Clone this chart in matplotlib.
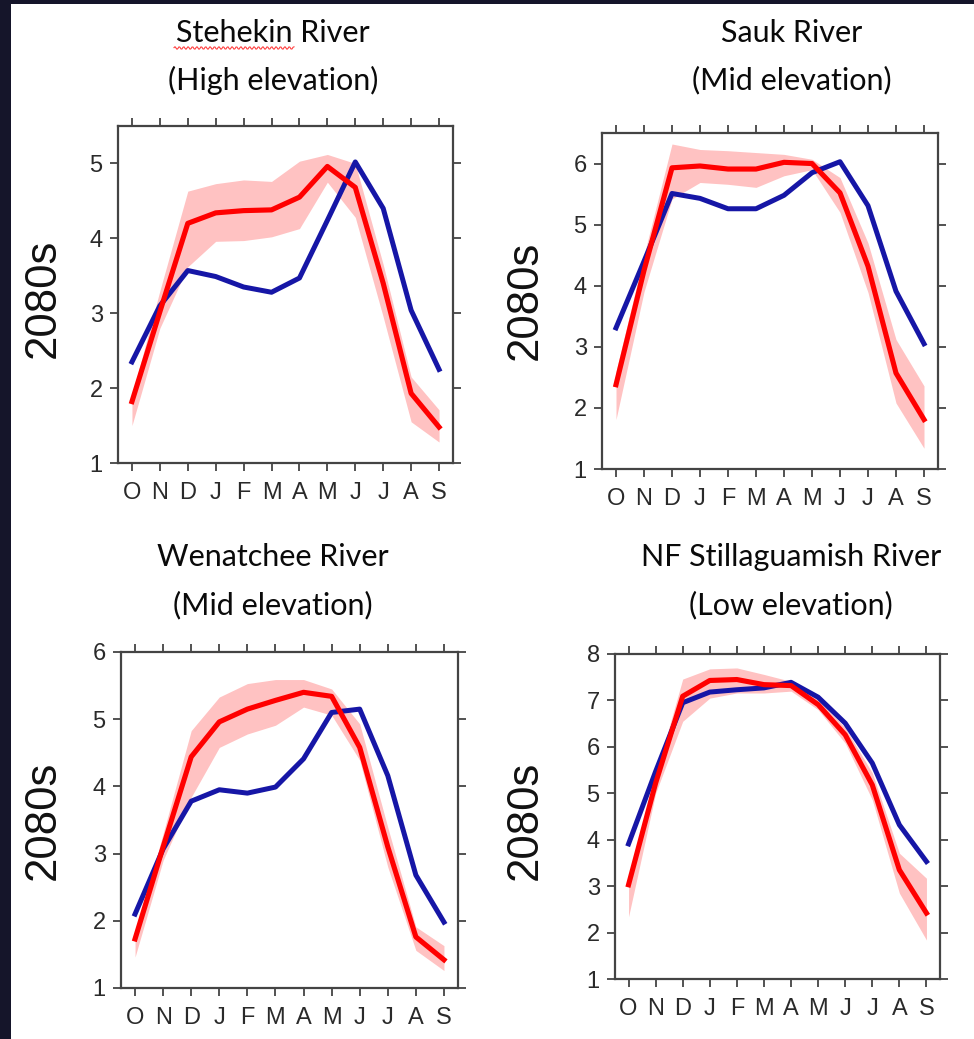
import numpy as np
import matplotlib
matplotlib.use('Agg')
import matplotlib.pyplot as plt
from matplotlib.patches import Rectangle
from matplotlib.lines import Line2D

months = ['O', 'N', 'D', 'J', 'F', 'M', 'A', 'M', 'J', 'J', 'A', 'S']

# Stehekin River (High elevation)
stehekin_hist = [2.35, 3.1, 3.57, 3.49, 3.35, 3.28, 3.47, 4.24, 5.02, 4.4, 3.04, 2.25]
stehekin_fut = [1.82, 3.02, 4.2, 4.34, 4.37, 4.38, 4.55, 4.96, 4.68, 3.4, 1.93, 1.48]
stehekin_lo = [1.5, 2.8, 3.62, 3.96, 3.97, 4.02, 4.13, 4.75, 4.28, 2.95, 1.55, 1.28]
stehekin_hi = [1.9, 3.3, 4.63, 4.73, 4.78, 4.76, 5.03, 5.12, 5.0, 3.65, 2.15, 1.71]

# Sauk River (Mid elevation)
sauk_hist = [3.31, 4.4, 5.51, 5.43, 5.26, 5.26, 5.48, 5.85, 6.03, 5.31, 3.91, 3.05]
sauk_fut = [2.38, 4.25, 5.93, 5.96, 5.91, 5.91, 6.02, 6.0, 5.52, 4.32, 2.57, 1.81]
sauk_lo = [1.81, 3.9, 5.42, 5.69, 5.66, 5.61, 5.8, 5.9, 5.2, 3.89, 2.08, 1.34]
sauk_hi = [2.6, 4.5, 6.32, 6.23, 6.21, 6.18, 6.15, 6.07, 5.77, 4.7, 3.12, 2.36]

# Wenatchee River (Mid elevation)
wenatchee_hist = [2.1, 3.07, 3.78, 3.95, 3.9, 3.99, 4.41, 5.1, 5.15, 4.16, 2.68, 1.98]
wenatchee_fut = [1.73, 3.1, 4.44, 4.96, 5.15, 5.28, 5.4, 5.34, 4.58, 3.1, 1.76, 1.42]
wenatchee_lo = [1.46, 2.9, 3.84, 4.58, 4.78, 4.91, 5.18, 5.06, 4.39, 2.8, 1.56, 1.26]
wenatchee_hi = [1.8, 3.3, 4.83, 5.33, 5.53, 5.59, 5.59, 5.45, 4.93, 3.39, 1.91, 1.63]

# NF Stillaguamish River (Low elevation)
stilly_hist = [3.91, 5.47, 6.95, 7.18, 7.23, 7.27, 7.39, 7.07, 6.51, 5.65, 4.32, 3.53]
stilly_fut = [3.03, 5.22, 7.09, 7.43, 7.45, 7.34, 7.32, 6.91, 6.26, 5.18, 3.35, 2.42]
stilly_lo = [2.34, 5.0, 6.55, 7.05, 7.16, 7.16, 7.2, 6.8, 6.08, 4.86, 2.85, 1.84]
stilly_hi = [3.2, 5.4, 7.46, 7.68, 7.7, 7.56, 7.41, 7.02, 6.41, 5.44, 3.71, 3.17]

titles = [['Stehekin River', '(High elevation)'],
          ['Sauk River', '(Mid elevation)'],
          ['Wenatchee River', '(Mid elevation)'],
          ['NF Stillaguamish River', '(Low elevation)']]
ylims = [(1, 5.5), (1, 6.5), (1, 6), (1, 8)]

W, H = 974, 1039
fig = plt.figure(figsize=(W / 100, H / 100), dpi=100, facecolor='#15152a')
fig.patches.append(Rectangle((11 / W, 0), 1, 1 - 4 / H, transform=fig.transFigure,
                             facecolor='white', edgecolor='none', zorder=-5))

# axes boxes in pixels: left, top, right, bottom
boxes = [(118, 126, 453, 463), (602, 133, 938, 469),
         (121, 652, 458, 988), (615, 654, 940, 979)]
title_x = [273, 792, 273, 791]
title_y = [(33, 80), (33, 80), (557, 605), (557, 605)]
ylab_pos = [(43, 298), (525, 300), (43, 820), (525, 820)]

panels = [(stehekin_hist, stehekin_fut, stehekin_lo, stehekin_hi),
          (sauk_hist, sauk_fut, sauk_lo, sauk_hi),
          (wenatchee_hist, wenatchee_fut, wenatchee_lo, wenatchee_hi),
          (stilly_hist, stilly_fut, stilly_lo, stilly_hi)]

x = np.arange(len(months))
for i, (hist, fut, lo, hi) in enumerate(panels):
    l, t, r, b = boxes[i]
    ax = fig.add_axes([l / W, 1 - b / H, (r - l) / W, (b - t) / H])
    ax.fill_between(x, lo, hi, color='#ffc2c2', linewidth=0, zorder=1)
    ax.plot(x, hist, color='#1616a6', lw=3.6, zorder=2, solid_joinstyle='round')
    ax.plot(x, fut, color='#ff0000', lw=3.7, zorder=3, solid_joinstyle='round')
    ax.set_xlim(-0.5, 11.5)
    ax.set_ylim(*ylims[i])
    ax.set_xticks(x)
    ax.set_xticklabels(months)
    ax.set_yticks(np.arange(1, int(ylims[i][1]) + 1))
    ax.tick_params(direction='out', length=6, width=1.3, color='#444444',
                   labelcolor='#2a2a2a', labelsize=17,
                   top=True, right=True, labeltop=False, labelright=False)
    ax.tick_params(axis='x', pad=8)
    ax.tick_params(axis='y', pad=5)
    for lab in ax.get_xticklabels() + ax.get_yticklabels():
        lab.set_family('Liberation Sans')
    for s in ax.spines.values():
        s.set_color('#444444')
        s.set_linewidth(1.6)

    fig.text(title_x[i] / W, 1 - title_y[i][0] / H, titles[i][0], ha='center', va='center',
             fontsize=22, family='Lato', color='#0a0a0a')
    fig.text(title_x[i] / W, 1 - title_y[i][1] / H, titles[i][1], ha='center', va='center',
             fontsize=22, family='Lato', color='#0a0a0a')
    fig.text(ylab_pos[i][0] / W, 1 - ylab_pos[i][1] / H, '2080s', rotation=90,
             ha='center', va='center', fontsize=31.5, family='Liberation Sans', color='#111111')

# red spell-check squiggle under "Stehekin"
sx = np.linspace(174, 294, 121)
sy = 48 + 1.3 * np.sin(sx * np.pi / 2.2)
fig.add_artist(Line2D(sx / W, 1 - sy / H, transform=fig.transFigure, color='#ff4040', lw=0.8))

fig.savefig('out.png', dpi=100, facecolor=fig.get_facecolor())
